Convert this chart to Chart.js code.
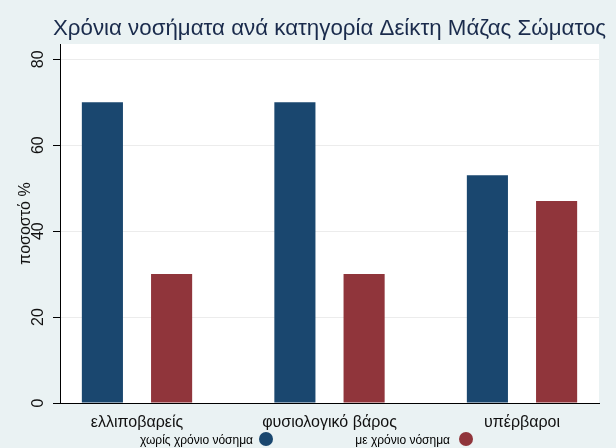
<!DOCTYPE html>
<html><head><meta charset="utf-8">
<script src="https://cdn.jsdelivr.net/npm/chart.js@4"></script>
<style>html,body{margin:0;padding:0;background:#eaf2f3;overflow:hidden;}</style>
</head><body>
<canvas id="c" width="616" height="448" style="display:block;width:616px;height:448px;"></canvas>
<script>
const chartTitle = 'Χρόνια νοσήματα ανά κατηγορία Δείκτη Μάζας Σώματος';
const yAxisTitle = 'ποσοστό %';
const categories = ['ελλιποβαρείς', 'φυσιολογικό βάρος', 'υπέρβαροι'];
const seriesNames = ['χωρίς χρόνιο νόσημα', 'με χρόνιο νόσημα'];
const withoutChronic = [70, 70, 53];
const withChronic = [30, 30, 47];
const yTicks = [0, 20, 40, 60, 80];

const FONT = '"Liberation Sans", Arial, Helvetica, sans-serif';
const NAVY = '#1a476f', MAROON = '#90353b';

const decor = {
  id: 'decor',
  beforeDraw(chart) {
    const {ctx, chartArea: a} = chart;
    ctx.save();
    ctx.fillStyle = '#eaf2f3';
    ctx.fillRect(0, 0, chart.width, chart.height);
    ctx.fillStyle = '#ffffff';
    ctx.fillRect(a.left, a.top, a.right - a.left, a.bottom - a.top);
    ctx.restore();
  },
  afterDraw(chart) {
    const {ctx, chartArea: a} = chart;
    ctx.save();
    ctx.fillStyle = '#1a2b4c';
    ctx.font = '22.3px ' + FONT;
    ctx.textAlign = 'center';
    ctx.textBaseline = 'alphabetic';
    ctx.fillText(chartTitle, (a.left + a.right) / 2, 35);
    const pos = [{tr: 253, cx: 266}, {tr: 450, cx: 466}];
    ctx.font = '12px ' + FONT;
    chart.data.datasets.forEach((ds, i) => {
      ctx.fillStyle = '#000';
      ctx.textAlign = 'right';
      ctx.textBaseline = 'alphabetic';
      ctx.fillText(ds.label, pos[i].tr, 444);
      ctx.beginPath();
      ctx.arc(pos[i].cx, 439, 7, 0, Math.PI * 2);
      ctx.fillStyle = ds.backgroundColor;
      ctx.fill();
    });
    ctx.restore();
  }
};

const toPoints = vals => vals.map((v, i) => ({x: i, y: v}));

new Chart(document.getElementById('c'), {
  type: 'bar',
  data: {
    datasets: [
      {label: seriesNames[0], data: toPoints(withoutChronic), backgroundColor: NAVY, borderWidth: 0,
       categoryPercentage: 0.719, barPercentage: 0.594},
      {label: seriesNames[1], data: toPoints(withChronic), backgroundColor: MAROON, borderWidth: 0,
       categoryPercentage: 0.719, barPercentage: 0.594}
    ]
  },
  options: {
    responsive: false,
    animation: false,
    devicePixelRatio: 1,
    layout: {padding: {top: 44, right: 17, left: 0, bottom: 0}},
    plugins: {legend: {display: false}, title: {display: false}, tooltip: {enabled: false}},
    scales: {
      x: {
        type: 'linear', min: -0.4, max: 2.4, offset: false,
        afterBuildTicks(s) { s.ticks = categories.map((c, i) => ({value: i})); },
        afterFit(s) { s.height = 45; s.paddingLeft = 0; s.paddingRight = 0; },
        ticks: {callback: v => categories[v], font: {size: 16, family: FONT}, color: '#111',
                padding: 10, autoSkip: false, maxRotation: 0, minRotation: 0},
        grid: {display: false, drawTicks: false, offset: false},
        border: {display: true, color: '#000', width: 1}
      },
      y: {
        min: 0, max: 83.56,
        afterBuildTicks(s) { s.ticks = yTicks.map(v => ({value: v})); },
        afterFit(s) { s.width = 60; s.paddingTop = 0; s.paddingBottom = 0; },
        ticks: {minRotation: 90, maxRotation: 90, crossAlign: 'center', padding: 6,
                font: {size: 16, family: FONT}, color: '#111'},
        grid: {color: '#ececec', tickColor: '#000', tickLength: 7, drawTicks: true},
        border: {display: true, color: '#000', width: 1},
        title: {display: true, text: yAxisTitle, font: {size: 16, family: FONT}, color: '#111',
                padding: {top: 16, bottom: 0}}
      }
    }
  },
  plugins: [decor]
});
</script>
</body></html>
